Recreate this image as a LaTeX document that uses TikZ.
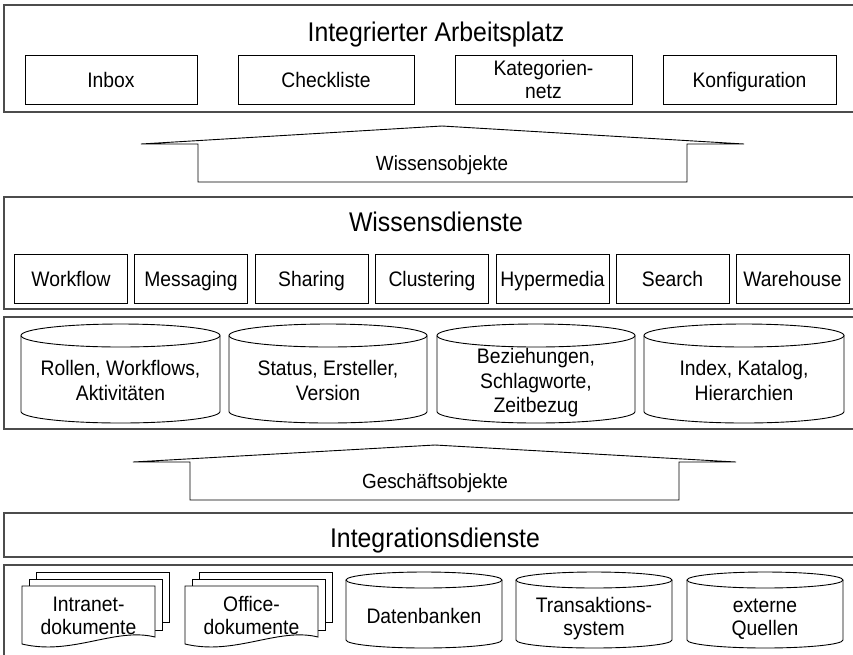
\documentclass[tikz,border=0pt]{standalone}
\usepackage{fontspec}
\setmainfont{Liberation Sans}[FakeStretch=0.92]

% cylinder (database drum): #1 left, #2 right, #3 top, #4 lowest point, #5 half height of the rims
\newcommand\drum[5]{%
  \pgfmathsetmacro\dmx{(#1+#2)/2}%
  \pgfmathsetmacro\drx{(#2-#1)/2}%
  \pgfmathsetmacro\dyt{#3+#5}%
  \pgfmathsetmacro\dyb{#4-#5}%
  \draw[edge] (\dmx,\dyt) ellipse [x radius=\drx pt, y radius=#5pt];
  \draw[edge] (#1,\dyt) -- (#1,\dyb)
    .. controls (#1,{\dyb+0.5523*#5}) and ({\dmx-0.5523*\drx},#4) .. (\dmx,#4)
    .. controls ({\dmx+0.5523*\drx},#4) and (#2,{\dyb+0.5523*#5}) .. (#2,\dyb)
    -- (#2,\dyt);
}

% stack of three document sheets: #1 left and #2 right of the front sheet
\newcommand\docstack[2]{%
  \draw[edge] ({#1+14},579) -- ({#1+14},572) -- ({#2+14},572) -- ({#2+14},622) -- ({#2+7},622);
  \draw[edge] ({#1+7},586) -- ({#1+7},579) -- ({#2+7},579) -- ({#2+7},630) -- (#2,630);
  \draw[edge,fill=white] (#1,586) -- (#2,586) -- (#2,637)
    .. controls ({#2-40},627) and ({#1+50},656) .. (#1,644) -- cycle;
}

\tikzset{
  frame/.style={draw=black!70, line width=1.2pt, inner sep=0pt},
  edge/.style={draw=black, line width=0.9pt},
  cell/.style={edge, inner sep=0pt, minimum height=49pt, align=center,
    text height=15pt, text depth=0pt,
    font=\fontsize{21}{23}\selectfont},
  headline/.style={inner sep=0pt, anchor=base, font=\fontsize{27}{30}\selectfont},
  lbl/.style={inner sep=0pt, anchor=base, align=center, font=\fontsize{21}{24.5}\selectfont},
  lbls/.style={inner sep=0pt, anchor=base, align=center, font=\fontsize{21}{22.5}\selectfont},
  flowlbl/.style={inner sep=0pt, anchor=base, font=\fontsize{20.5}{23}\selectfont},
}

\begin{document}
\begin{tikzpicture}[x=1pt,y=-1pt]
\useasboundingbox (0,0) rectangle (853,654);
\clip (0,0) rectangle (853,654);
\fill[white] (0,0) rectangle (853,654);

% layer frames
\node[frame, minimum width=856pt, minimum height=107pt] (arbeitsplatz) at (432,58.5) {};
\node[frame, minimum width=856pt, minimum height=112pt] (wissensdienste) at (432,253) {};
\node[frame, minimum width=856pt, minimum height=112pt] (speicher) at (432,373) {};
\node[frame, minimum width=856pt, minimum height=44pt] (integration) at (432,535) {};
\node[frame, minimum width=856pt, minimum height=100pt] (quellen) at (432,615) {};

% integrated workplace
\node[headline] (t-arbeitsplatz) at (436,41.5) {Integrierter Arbeitsplatz};
\node[cell, minimum width=172pt] (inbox) at (111,79.5) {Inbox};
\node[cell, minimum width=176pt] (checkliste) at (326,79.5) {Checkliste};
\node[cell, minimum width=177pt, text height=38pt] (kategorien) at (543.5,79.5) {Kategorien-\\netz};
\node[cell, minimum width=173pt] (konfiguration) at (749.5,79.5) {Konfiguration};

% flow of knowledge objects
\draw[edge] (141,144) -- (442,126) -- (744,144) -- (687,144) -- (687,182)
  -- (198,182) -- (198,144) -- cycle;
\node[flowlbl] (wissensobjekte) at (442,170) {Wissensobjekte};

% knowledge services
\node[headline] (t-wissensdienste) at (436,231) {Wissensdienste};
\node[cell, minimum width=113pt] (workflow) at (71,278.5) {Workflow};
\node[cell, minimum width=113pt] (messaging) at (191,278.5) {Messaging};
\node[cell, minimum width=113pt] (sharing) at (311.5,278.5) {Sharing};
\node[cell, minimum width=113pt] (clustering) at (432,278.5) {Clustering};
\node[cell, minimum width=113pt] (hypermedia) at (552.5,278.5) {Hypermedia};
\node[cell, minimum width=113pt] (search) at (672.5,278.5) {Search};
\node[cell, minimum width=113pt] (warehouse) at (792.5,278.5) {Warehouse};

% metadata stores (labels placed by the baseline of their last line)
\drum{21}{220}{324}{423}{11.5}
\drum{229}{427}{324}{423}{11.5}
\drum{437}{635}{324}{423}{11.5}
\drum{644}{844}{324}{423}{11.5}
\node[lbl] (rollen) at (120.5,400) {Rollen, Workflows,\\Aktivitäten};
\node[lbl] (status) at (328,400) {Status, Ersteller,\\Version};
\node[lbl] (beziehungen) at (536,412.5) {Beziehungen,\\Schlagworte,\\Zeitbezug};
\node[lbl] (index) at (744,400) {Index, Katalog,\\Hierarchien};

% flow of business objects
\draw[edge] (133,462) -- (435,445) -- (736,462) -- (679,462) -- (679,500)
  -- (190,500) -- (190,462) -- cycle;
\node[flowlbl] (geschaeftsobjekte) at (435,488) {Geschäftsobjekte};

% integration services
\node[headline] (t-integration) at (435,547.5) {Integrationsdienste};

% sources
\docstack{22}{155}
\docstack{185}{318}
\drum{346}{502}{572}{648}{8}
\drum{516}{672}{572}{648}{8}
\drum{687}{843}{572}{648}{8}
\node[lbls] (intranet) at (88.5,634) {Intranet-\\dokumente};
\node[lbls] (office) at (251.5,634) {Office-\\dokumente};
\node[lbls] (datenbanken) at (424,623.5) {Datenbanken};
\node[lbls] (transaktion) at (594,635) {Transaktions-\\system};
\node[lbls] (extern) at (765,635) {externe\\Quellen};
\end{tikzpicture}
\end{document}
